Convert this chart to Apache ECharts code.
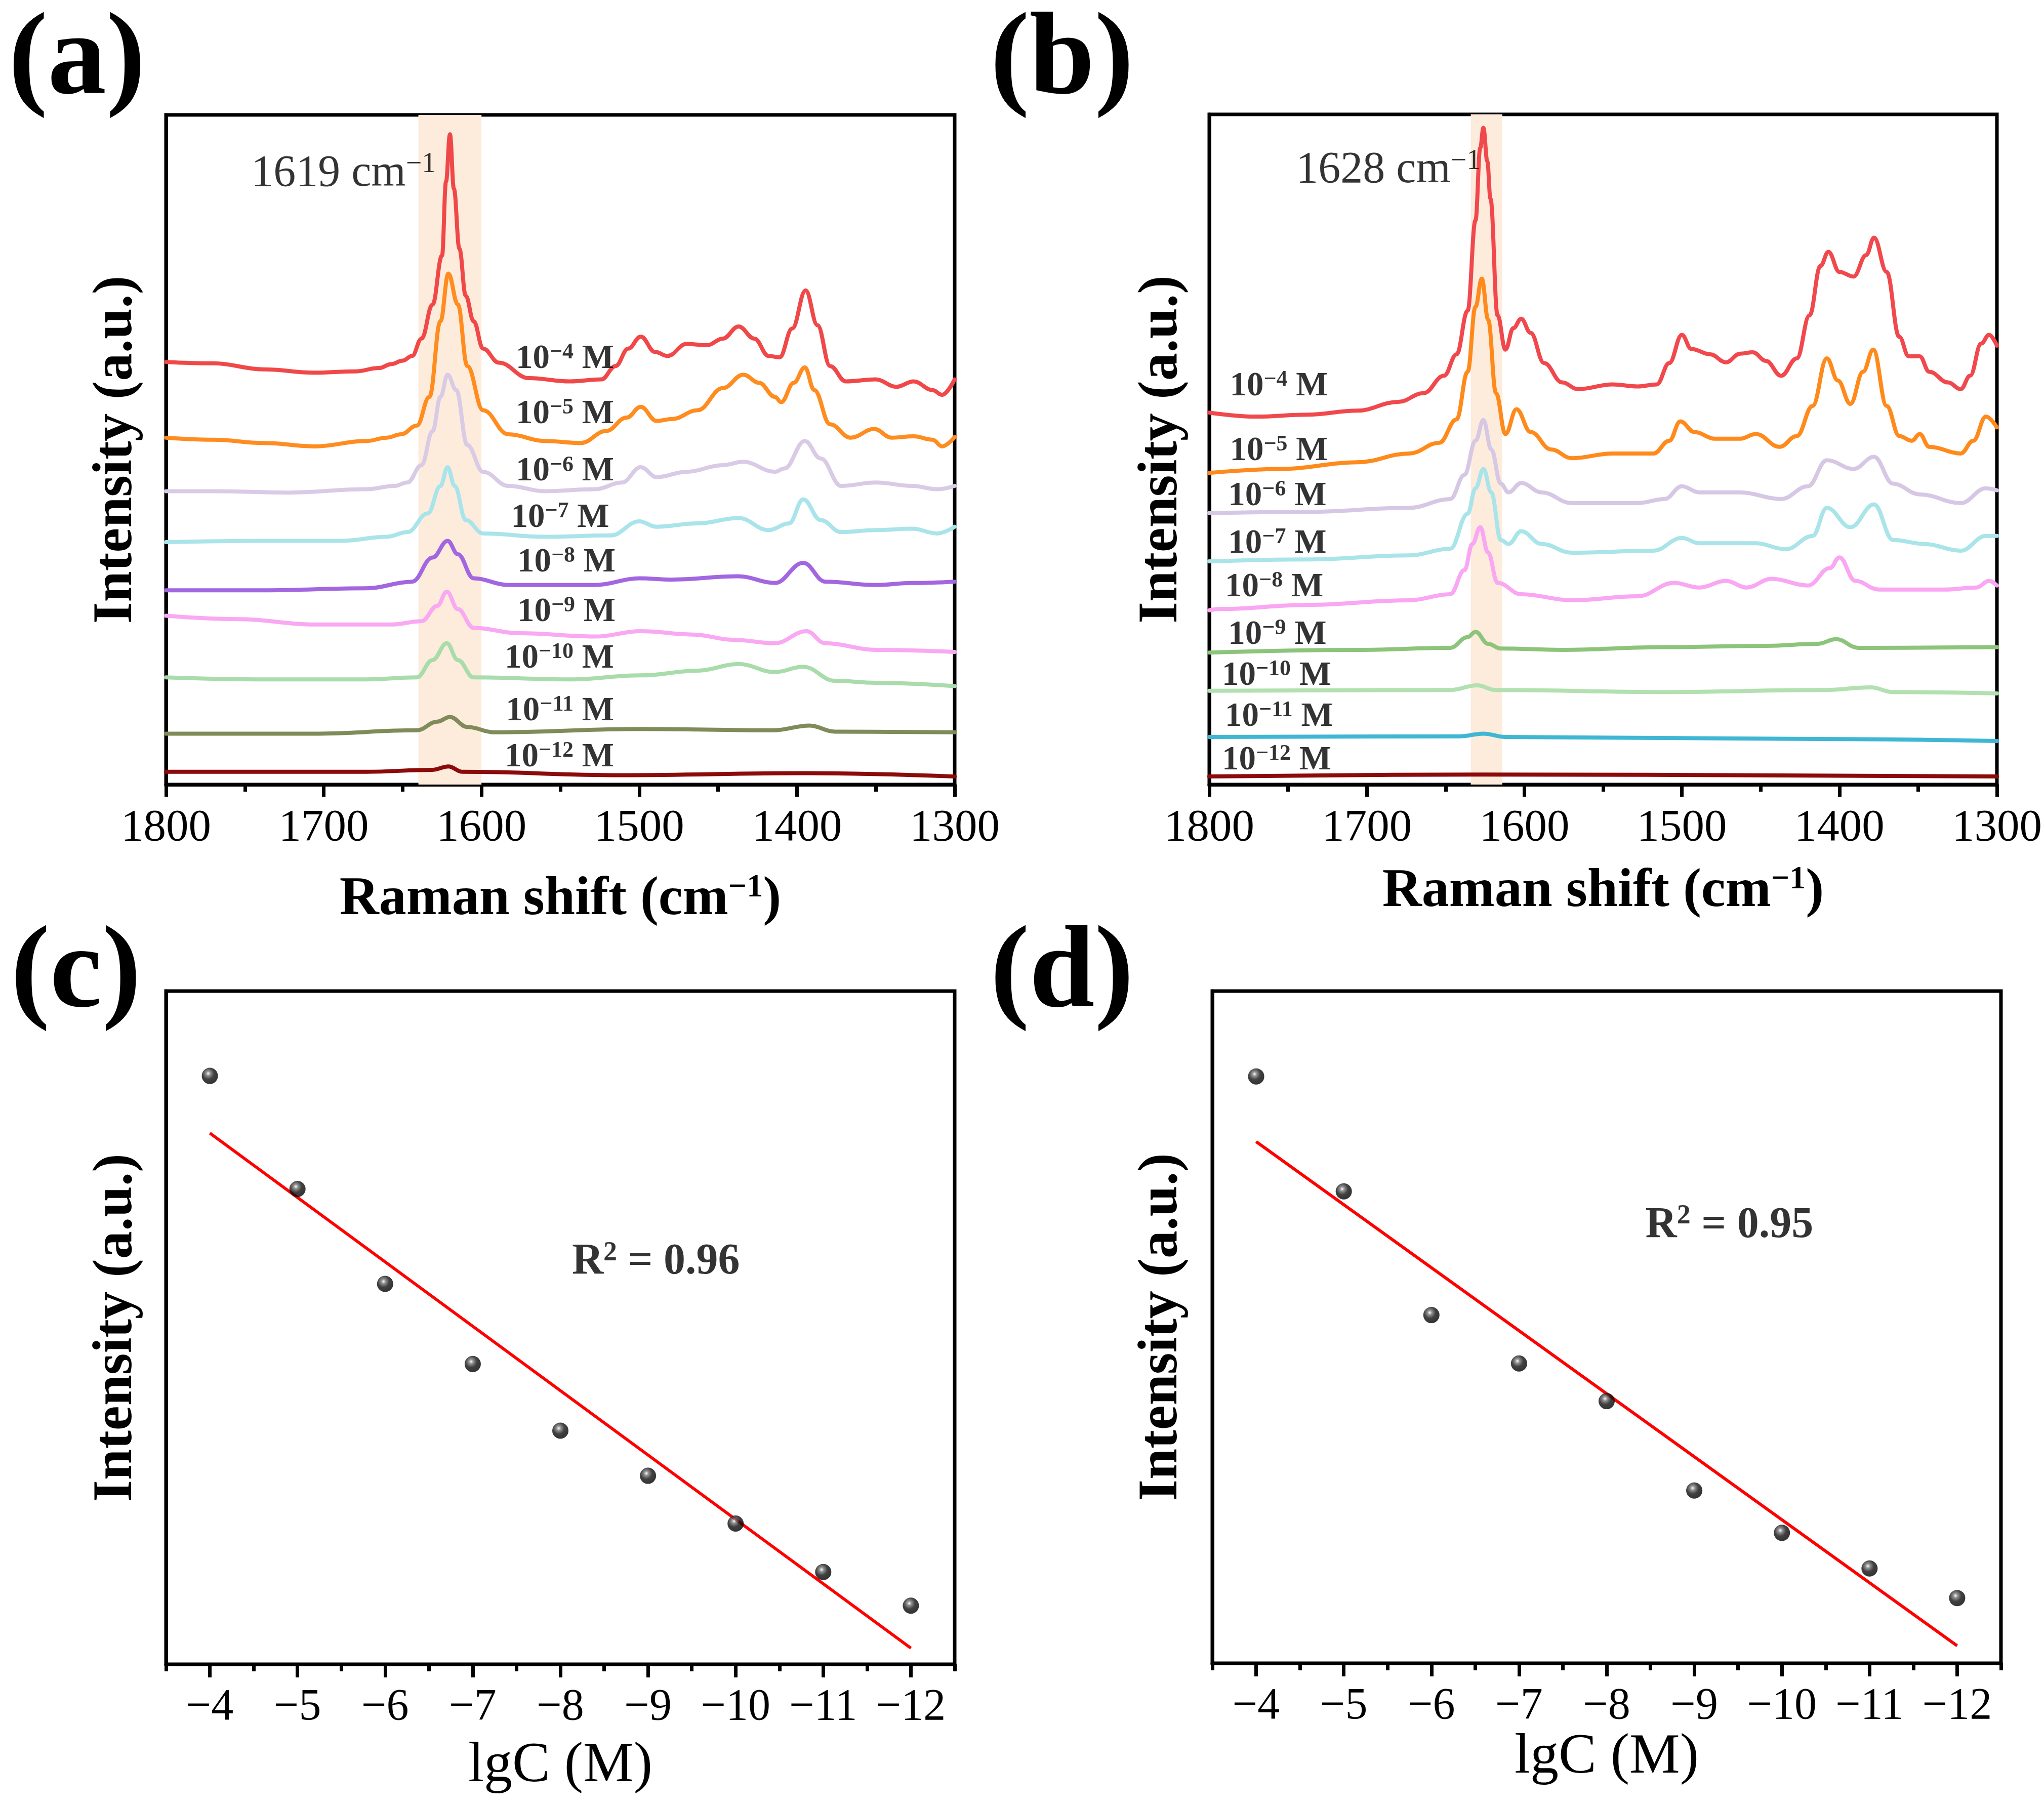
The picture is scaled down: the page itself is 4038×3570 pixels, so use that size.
<!DOCTYPE html>
<html><head><meta charset="utf-8">
<script src="https://cdn.jsdelivr.net/npm/echarts@6/dist/echarts.min.js"></script>
<style>html,body{margin:0;padding:0;background:#fff}#c{width:4038px;height:3570px}</style>
</head><body><div id="c"></div>
<script>
// ---------- DATA ----------
// Panel (a): Raman spectra [wavenumber (cm-1), offset intensity (a.u.)]
const a_e4 = [[1800,63.1],[1770,62.9],[1738,62.0],[1706,61.5],[1680,61.7],[1665,62.2],[1657,62.8],[1650,63.3],[1644,64.0],[1638,66.6],[1631,71.7],[1625,79],[1622.5,90],[1620,97.1],[1617.5,89],[1614,80],[1610,73],[1605,69.2],[1599,65.1],[1589,63.0],[1570,60.7],[1544,60.2],[1524,60.5],[1515,62.5],[1507,65.1],[1499,66.9],[1490,64.6],[1482,64.0],[1470,65.8],[1457,65.6],[1447,66.6],[1437,68.4],[1427,66.6],[1418,64.0],[1411,63.8],[1403,68.1],[1394.5,73.8],[1387,68.6],[1379,62.5],[1369,60.2],[1350,60.5],[1337,59.4],[1326,60.2],[1314,58.9],[1308,58.2],[1300,60.5]];
const a_e5 = [[1800,51.8],[1770,51.5],[1738,51.0],[1706,50.5],[1673,51.3],[1660,51.8],[1651,52.3],[1641,53.6],[1633,57.9],[1626,69.2],[1621,76.3],[1615,71.7],[1609,62.5],[1599,55.9],[1583,52.3],[1560,51.3],[1537,51.0],[1521,52.8],[1508,54.8],[1499,56.4],[1489,54.3],[1479,54.6],[1463,55.9],[1447,59.2],[1434,61.2],[1424,60.0],[1414,57.9],[1410,57.1],[1402,60.0],[1395,62.3],[1389,58.9],[1379,53.8],[1366,51.8],[1351,53.1],[1340,51.8],[1326,52.0],[1314,51.5],[1308,50.5],[1300,51.9]];
const a_e6 = [[1800,43.8],[1770,43.8],[1722,43.6],[1673,44.1],[1655,44.6],[1647,45.1],[1638,47.7],[1631,52.8],[1626,57.9],[1621.5,61.2],[1616,58.9],[1609,50.7],[1599,46.7],[1583,44.6],[1560,43.8],[1528,44.1],[1511,45.1],[1499,47.4],[1489,45.9],[1470,46.7],[1447,47.7],[1434,48.2],[1414,46.7],[1408,47.2],[1395,51.3],[1385,48.7],[1372,44.6],[1350,45.1],[1327,44.6],[1311,44.1],[1300,44.6]];
const a_e7 = [[1800,36.2],[1738,36.4],[1689,36.4],[1660,37.0],[1647,37.7],[1634,40.5],[1626,44.6],[1621.5,47.4],[1617,44.6],[1610,39.5],[1599,37.5],[1560,37.0],[1518,37.2],[1500,39.3],[1489,38.5],[1463,39.0],[1437,39.8],[1418,38.0],[1405,39.0],[1396,42.6],[1385,39.5],[1372,37.7],[1350,38.0],[1327,38.2],[1311,37.5],[1300,38.5]];
const a_e8 = [[1800,29.0],[1738,29.0],[1673,29.3],[1644,30.3],[1631,33.9],[1621.5,36.4],[1615,34.4],[1605,30.8],[1583,29.8],[1528,29.8],[1500,30.8],[1480,30.6],[1437,31.1],[1414,30.1],[1396,33.1],[1382,30.3],[1350,29.8],[1327,30.1],[1300,30.3]];
const a_e9 = [[1800,25.2],[1754,24.7],[1706,23.9],[1657,23.9],[1638,24.4],[1628,26.7],[1622,28.8],[1615,26.2],[1605,23.4],[1576,22.6],[1528,22.1],[1499,22.9],[1466,22.4],[1440,21.6],[1414,21.1],[1394,22.9],[1382,21.1],[1350,20.1],[1300,19.8]];
const a_e10 = [[1800,16.0],[1738,15.7],[1673,15.7],[1641,16.0],[1631,18.6],[1622,21.1],[1615,18.6],[1605,16.0],[1544,15.7],[1499,16.3],[1463,17.0],[1437,18.0],[1414,16.8],[1396,17.6],[1376,15.5],[1350,15.2],[1300,14.7]];
const a_e11 = [[1800,7.6],[1706,7.6],[1641,8.1],[1628,9.4],[1620,10.1],[1609,8.6],[1592,7.8],[1499,8.3],[1415,8.1],[1392,8.8],[1376,7.9],[1300,7.8]];
const a_e12 = [[1800,1.9],[1673,1.9],[1631,2.2],[1621,2.7],[1612,1.9],[1512,1.4],[1394,1.7],[1300,1.2]];

// Panel (b)
const b_e4 = [[1800,55.5],[1770,54.9],[1738,55.2],[1706,55.8],[1680,57.1],[1664,58.4],[1651,61.0],[1643,64.2],[1636,70.7],[1631,84.2],[1628,95],[1626,98.0],[1623.5,93],[1621.5,87.4],[1617,70.0],[1612,64.9],[1607,68.1],[1602,69.5],[1596,67.4],[1587.5,62.9],[1576,60.0],[1566,59.0],[1544,59.7],[1528,59.4],[1516,59.7],[1508,62.9],[1500,67.1],[1494,65.0],[1482,64.2],[1472,63.0],[1463,64.3],[1455,64.5],[1446.5,63.2],[1437,61.0],[1427,63.6],[1419,70.0],[1412,77.4],[1407,79.5],[1400,76.5],[1391,75.8],[1383,79.0],[1378,81.6],[1370,76.5],[1362,66.8],[1356,63.9],[1349,63.9],[1343,61.6],[1331,60.0],[1323,59.0],[1317,61.0],[1310,65.8],[1305,67.1],[1300,65.5]];
const b_e5 = [[1800,46.5],[1754,47.1],[1706,48.1],[1673,49.4],[1654,51.0],[1643,54.5],[1636,61.6],[1631,71.3],[1627,75.5],[1623,69.4],[1618,58.4],[1612,52.3],[1605,56.0],[1596,52.6],[1583,50.0],[1570,48.7],[1544,49.4],[1518,49.4],[1508,51.3],[1501,54.2],[1492,52.6],[1479,51.6],[1463,51.6],[1453,52.3],[1438,50.4],[1427,52.0],[1417,56.5],[1408,63.6],[1401,60.3],[1393,56.8],[1385,61.6],[1378.5,64.9],[1370,56.5],[1362,52.0],[1354,51.3],[1349,52.3],[1343,50.4],[1323,49.4],[1315,51.3],[1307,54.9],[1300,53.3]];
const b_e6 = [[1800,40.5],[1738,40.7],[1673,41.3],[1647,42.6],[1638,46.2],[1631,51.3],[1626,54.4],[1621,50.0],[1615,44.9],[1610,43.6],[1602,45.0],[1589,43.6],[1570,42.0],[1528,42.0],[1511,42.6],[1500,44.5],[1489,43.6],[1463,43.6],[1437,42.6],[1420,44.5],[1408,48.4],[1391,47.1],[1378,48.9],[1366,44.9],[1349,43.3],[1323,42.0],[1307,44.2],[1300,43.9]];
const b_e7 = [[1800,33.3],[1738,33.6],[1673,34.2],[1647,35.2],[1636,40.4],[1631,44.2],[1626,47.1],[1621,43.6],[1615,36.5],[1610,35.9],[1602,37.8],[1589,35.9],[1570,34.6],[1518,34.9],[1500,36.8],[1489,36.0],[1453,36.0],[1434,35.1],[1417,37.1],[1408,41.3],[1393,38.4],[1378,41.8],[1366,36.5],[1346,35.9],[1323,34.9],[1307,37.1],[1300,37.1]];
const b_e8 = [[1800,26.0],[1793,26.2],[1738,26.8],[1673,27.5],[1647,28.4],[1638,32.0],[1633,35.9],[1628,38.4],[1623,34.6],[1617,30.1],[1602,28.4],[1570,27.5],[1528,28.1],[1505,30.1],[1489,29.4],[1472,30.4],[1459,29.4],[1443,30.7],[1420,29.7],[1406,32.3],[1400,33.9],[1390,30.4],[1375,29.1],[1333,29.1],[1313,29.4],[1305,30.4],[1300,29.7]];
const b_e9 = [[1800,19.7],[1706,20.1],[1647,20.4],[1636,22.0],[1631,22.8],[1623,21.0],[1615,20.3],[1576,20.1],[1511,20.5],[1446,20.7],[1414,21.0],[1402,21.7],[1388,20.4],[1300,20.5]];
const b_e10 = [[1800,14.0],[1647,14.1],[1630,14.8],[1618,14.1],[1511,13.8],[1411,14.1],[1380,14.5],[1366,13.8],[1300,13.6]];
const b_e11 = [[1800,7.1],[1641,7.2],[1626,7.6],[1612,7.1],[1414,6.8],[1300,6.5]];
const b_e12 = [[1800,1.2],[1628,1.5],[1300,1.2]];

// Concentration exponents and label anchors
const concExp = ['−4','−5','−6','−7','−8','−9','−10','−11','−12'];
const labelXA = [1516,1516,1516,1519,1515,1515,1516,1516,1516];
const labelYA = [63.5,55.3,46.7,39.8,33.1,25.7,18.8,10.9,4.0];
const labelXB = [1787,1787,1788,1788,1790,1788,1792,1790,1792];
const labelYB = [59.4,49.7,43.0,35.9,29.4,22.3,16.2,10.1,3.6];

// Highlight bands (cm-1)
const bandA = [1640, 1600];
const bandB = [1634, 1614];
const peakTextA = {x:1746, y:91.2, text:'1619 cm'};
const peakTextB = {x:1745, y:91.6, text:'1628 cm'};

// Panels (c) and (d): lgC vs intensity
const lgC = [-4,-5,-6,-7,-8,-9,-10,-11,-12];
const intC = [87.4,70.6,56.5,44.6,34.7,28.0,20.9,13.7,8.7];
const intD = [87.3,70.2,51.8,44.6,39.0,25.7,19.4,14.1,9.7];
const fitC = [[-4,78.9],[-12,2.4]];
const fitD = [[-4,77.6],[-12,2.6]];
const r2C = {x:-9.09, y:59.7, text:'0.96'};
const r2D = {x:-9.4, y:65.1, text:'0.95'};
const ticksLg = [-4,-5,-6,-7,-8,-9,-10,-11,-12];
const minorLg = [-3.5,-4.5,-5.5,-6.5,-7.5,-8.5,-9.5,-10.5,-11.5,-12.5];

// ---------- STYLE ----------
const F = '"Liberation Serif","Times New Roman",serif';
const colorsA = ['#f04848','#ff8c1f','#d9cbe6','#a9e4ea','#a267e0','#f9a8f2','#a9dcab','#7f8b58','#8b0a0a'];
const colorsB = ['#f0484c','#ff8a1c','#d6c8e4','#a9e4e9','#f9a6f3','#8cc47a','#b2e0b0','#3fb7d3','#8b0a0a'];
const specA = [a_e4,a_e5,a_e6,a_e7,a_e8,a_e9,a_e10,a_e11,a_e12];
const specB = [b_e4,b_e5,b_e6,b_e7,b_e8,b_e9,b_e10,b_e11,b_e12];

const AX = 7;
const grids = [
  {left:328, top:227, width:1558, height:1323},
  {left:2389, top:226, width:1556, height:1324},
  {left:328, top:1958, width:1558, height:1330},
  {left:2395, top:1958, width:1558, height:1328}
].map(g => Object.assign(g, {show:true, borderColor:'#000', borderWidth:AX, backgroundColor:'transparent'}));

const supTitle = {fontFamily:F, fontWeight:'bold', fontSize:64, color:'#000', verticalAlign:'top', lineHeight:64};
function specX(gi, gap) {
  return {gridIndex:gi, type:'value', min:1300, max:1800, interval:100, inverse:true,
    axisLine:{show:true, onZero:false, lineStyle:{color:'#000', width:AX}},
    axisTick:{show:true, inside:false, length:24, lineStyle:{color:'#000', width:AX}},
    minorTick:{show:true, splitNumber:2, length:14, lineStyle:{color:'#000', width:AX}},
    splitLine:{show:false}, minorSplitLine:{show:false},
    axisLabel:{fontFamily:F, fontSize:89, color:'#000', margin:42, formatter: v => String(v)},
    name:'Raman shift (cm{s|−1})', nameLocation:'middle', nameGap:gap,
    nameTextStyle:{fontFamily:F, fontWeight:'bold', fontSize:108, color:'#000', lineHeight:112,
      rich:{s:supTitle}}
  };
}
function lgX(gi, gap) {
  return [{gridIndex:gi, type:'value', min:-12.5, max:-3.5, inverse:true,
    axisLine:{show:true, onZero:false, lineStyle:{color:'#000', width:AX}},
    axisTick:{show:true, inside:false, length:26, customValues:ticksLg, lineStyle:{color:'#000', width:AX}},
    splitLine:{show:false},
    axisLabel:{fontFamily:F, fontSize:88, color:'#000', margin:42, customValues:ticksLg,
      formatter: v => '−' + Math.abs(v)},
    name:'lgC (M)', nameLocation:'middle', nameGap:gap,
    nameTextStyle:{fontFamily:F, fontSize:112, color:'#000'}
  },{gridIndex:gi, type:'value', min:-12.5, max:-3.5, inverse:true, position:'bottom',
    axisLine:{show:false}, axisLabel:{show:false}, splitLine:{show:false},
    axisTick:{show:true, inside:false, length:14, customValues:minorLg, lineStyle:{color:'#000', width:AX}}
  }];
}
function yAx(gi, gap) {
  return {gridIndex:gi, type:'value', min:0, max:100,
    axisLine:{show:true, onZero:false, lineStyle:{color:'#000', width:AX}},
    axisTick:{show:false}, axisLabel:{show:false}, splitLine:{show:false},
    name:'Intensity (a.u.)', nameLocation:'middle', nameGap:gap,
    nameTextStyle:{fontFamily:F, fontWeight:'bold', fontSize:110, color:'#000'}
  };
}

const xAxes = [specX(0,172), specX(1,156)].concat(lgX(2,146), lgX(3,128));
// x axis indices: 0 -> a, 1 -> b, 2,3 -> c, 4,5 -> d
const yAxes = [yAx(0,42), yAx(1,38), yAx(2,42), yAx(3,44)];

const series = [];
function bandSeries(xi, band) {
  return {type:'line', xAxisIndex:xi, yAxisIndex:xi, data:[], silent:true, z:1,
    markArea:{silent:true, itemStyle:{color:'#fdebdc'}, data:[[{xAxis:band[0]},{xAxis:band[1]}]]}};
}
series.push(bandSeries(0, bandA), bandSeries(1, bandB));
function specSeries(xi, data, color) {
  return {type:'line', xAxisIndex:xi, yAxisIndex:xi, data, showSymbol:false, symbol:'none',
    smooth:0.4, smoothMonotone:'x', lineStyle:{color, width:8, join:'round', cap:'round'}, z:3, silent:true};
}
specA.forEach((d,i) => series.push(specSeries(0, d, colorsA[i])));
specB.forEach((d,i) => series.push(specSeries(1, d, colorsB[i])));

const richConc = {
  n:{fontFamily:F, fontWeight:'bold', fontSize:67, color:'#000', lineHeight:70},
  s:{fontFamily:F, fontWeight:'bold', fontSize:44, color:'#000', verticalAlign:'top', lineHeight:40}
};
function concLabels(xi, xs, ys, pos) {
  return {type:'scatter', xAxisIndex:xi, yAxisIndex:xi, symbolSize:0, silent:true, z:10,
    data: xs.map((x,i) => [x, ys[i]]),
    label:{show:true, position:pos, distance:0,
      formatter: p => '{n|10}{s|' + concExp[p.dataIndex] + '}{n| M}', rich:richConc}};
}
series.push(concLabels(0, labelXA, labelYA, 'left'), concLabels(1, labelXB, labelYB, 'right'));

const richPeak = {
  a:{fontFamily:F, fontSize:88, color:'#000', lineHeight:92},
  t:{fontFamily:F, fontSize:56, color:'#000', verticalAlign:'top', lineHeight:56}
};
function peakLabel(xi, pt) {
  return {type:'scatter', xAxisIndex:xi, yAxisIndex:xi, symbolSize:0, silent:true, z:10,
    data:[[pt.x, pt.y]],
    label:{show:true, position:'right', distance:0, formatter:'{a|' + pt.text + '}{t|−1}', rich:richPeak}};
}
series.push(peakLabel(0, peakTextA), peakLabel(1, peakTextB));

const ballStyle = {color:{type:'radial', x:0.4, y:0.35, r:0.65,
  colorStops:[{offset:0,color:'#ffffff'},{offset:0.2,color:'#7a7a7a'},{offset:0.55,color:'#111'},{offset:1,color:'#000'}]}};
function lgSeries(xi, yi, vals, fit, r2) {
  return [
    {type:'line', xAxisIndex:xi, yAxisIndex:yi, data:fit, showSymbol:false, symbol:'none',
      lineStyle:{color:'#ff0000', width:6}, z:3, silent:true},
    {type:'scatter', xAxisIndex:xi, yAxisIndex:yi, data:lgC.map((x,i)=>[x, vals[i]]),
      symbol:'circle', symbolSize:32, itemStyle:ballStyle, z:5, silent:true},
    {type:'scatter', xAxisIndex:xi, yAxisIndex:yi, data:[[r2.x, r2.y]], symbolSize:0, silent:true, z:10,
      label:{show:true, position:'inside', formatter:'{r|R}{q|2}{r| = ' + r2.text + '}',
        rich:{r:{fontFamily:F, fontWeight:'bold', fontSize:86, color:'#000', lineHeight:90},
              q:{fontFamily:F, fontWeight:'bold', fontSize:54, color:'#000', verticalAlign:'top', lineHeight:54}}}}
  ];
}
series.push(...lgSeries(2, 2, intC, fitC, r2C), ...lgSeries(4, 3, intD, fitD, r2D));

const panelLabels = [['(a)',152,124],['(b)',2098,124],['(c)',150,1928],['(d)',2098,1928]];
const graphic = panelLabels.map(([t,x,y]) => ({type:'text', x, y, z:100,
  style:{text:t, fontFamily:F, fontWeight:'bold', fontSize:232, fill:'#000', align:'center', verticalAlign:'middle'}}));

const chart = echarts.init(document.getElementById('c'), null, {renderer:'canvas'});
chart.setOption({animation:false, backgroundColor:'#fff', grid:grids, xAxis:xAxes, yAxis:yAxes, series, graphic});
</script></body></html>
